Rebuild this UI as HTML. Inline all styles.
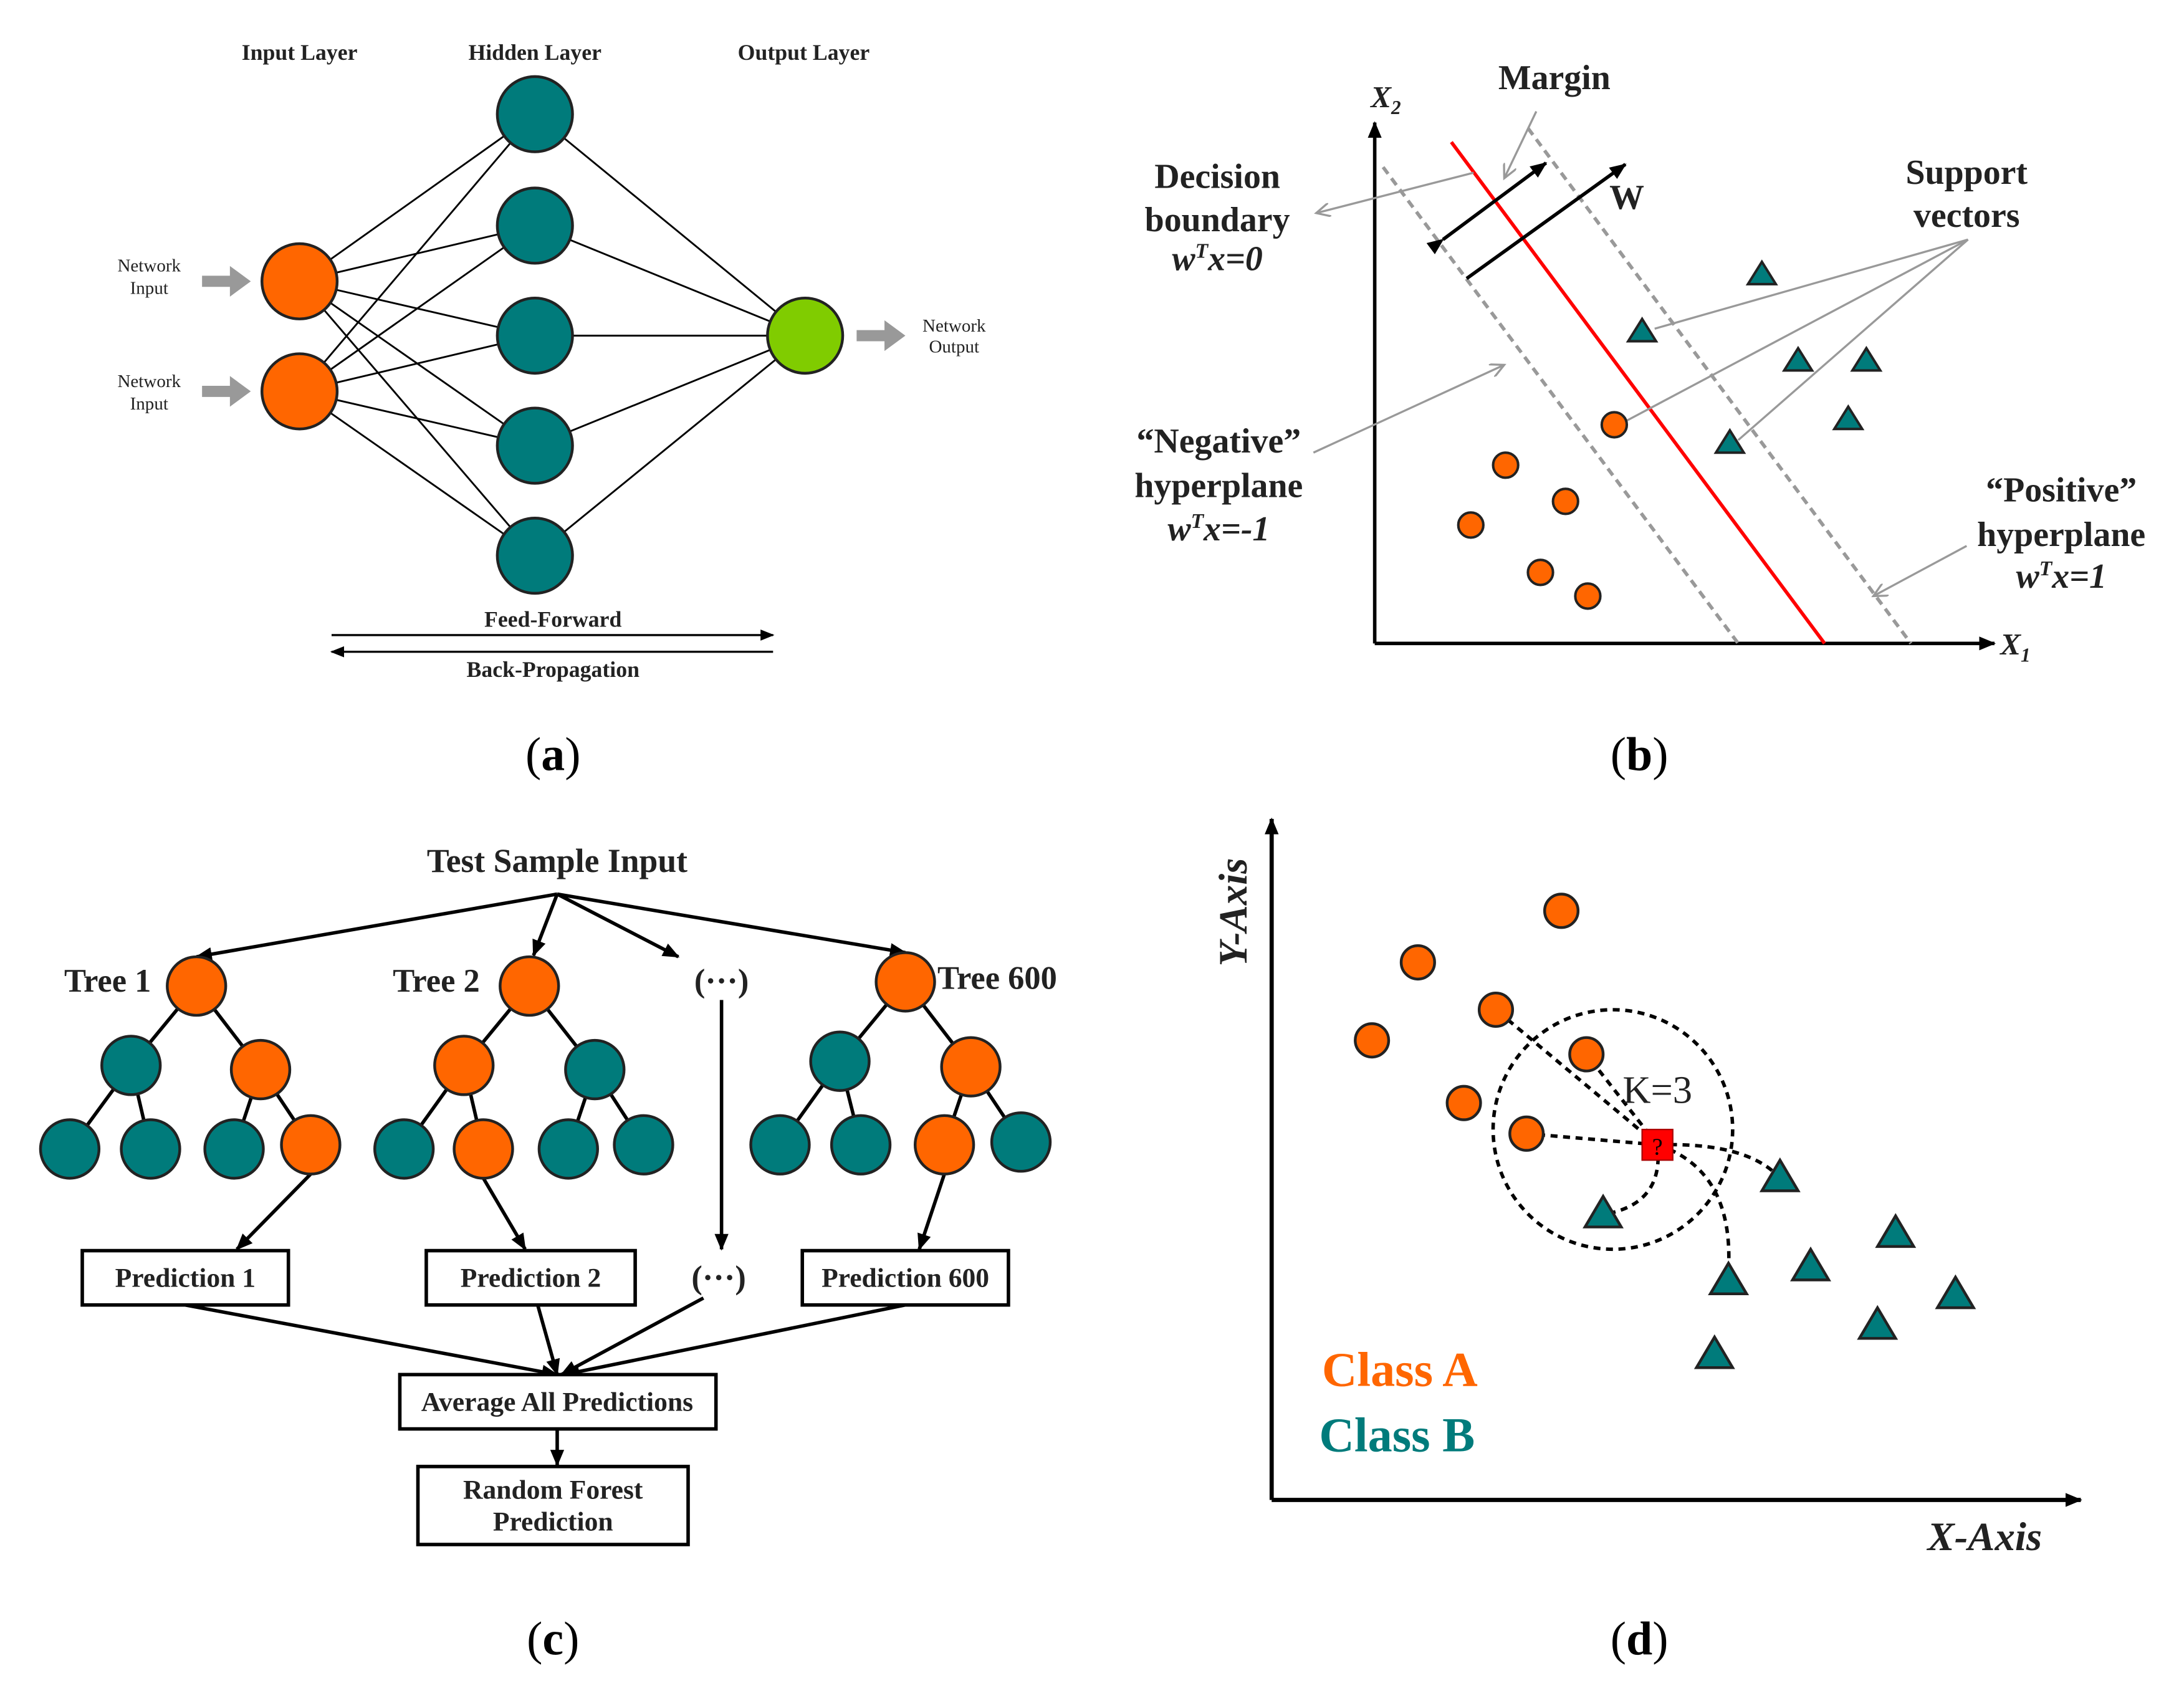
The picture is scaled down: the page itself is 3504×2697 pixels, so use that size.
<!DOCTYPE html>
<html><head><meta charset="utf-8"><style>html,body{margin:0;padding:0;background:#fff}svg{display:block}</style></head><body>
<svg width="3504" height="2697" viewBox="0 0 1568 1207" xmlns="http://www.w3.org/2000/svg" font-family="'Liberation Serif', serif" font-weight="bold">
<defs>
<marker id="ah" markerWidth="10" markerHeight="10" refX="9" refY="5" orient="auto" markerUnits="userSpaceOnUse"><path d="M0,1 L10,5 L0,9 z" fill="#000"/></marker>
<marker id="ahs" markerWidth="12" markerHeight="12" refX="11" refY="6" orient="auto" markerUnits="userSpaceOnUse"><path d="M0,1 L12,6 L0,11 z" fill="#000"/></marker>
<marker id="ahg" markerWidth="12" markerHeight="10" refX="10" refY="5" orient="auto" markerUnits="userSpaceOnUse"><path d="M0,0 L10,5 L0,10" fill="none" stroke="#999" stroke-width="1.5"/></marker>
</defs>
<rect width="1568" height="1207" fill="#fff"/>
<!-- Panel a -->
<g stroke="#000" stroke-width="1.3">
<line x1="215" y1="202" x2="384" y2="82"/><line x1="215" y1="202" x2="384" y2="162"/><line x1="215" y1="202" x2="384" y2="241"/><line x1="215" y1="202" x2="384" y2="320"/><line x1="215" y1="202" x2="384" y2="399"/>
<line x1="215" y1="281" x2="384" y2="82"/><line x1="215" y1="281" x2="384" y2="162"/><line x1="215" y1="281" x2="384" y2="241"/><line x1="215" y1="281" x2="384" y2="320"/><line x1="215" y1="281" x2="384" y2="399"/>
<line x1="384" y1="82" x2="578" y2="241"/><line x1="384" y1="162" x2="578" y2="241"/><line x1="384" y1="241" x2="578" y2="241"/><line x1="384" y1="320" x2="578" y2="241"/><line x1="384" y1="399" x2="578" y2="241"/>
</g>
<g stroke="#222" stroke-width="2">
<circle cx="215" cy="202" r="27" fill="#FF6600"/><circle cx="215" cy="281" r="27" fill="#FF6600"/>
<circle cx="384" cy="82" r="27" fill="#007B7B"/><circle cx="384" cy="162" r="27" fill="#007B7B"/><circle cx="384" cy="241" r="27" fill="#007B7B"/><circle cx="384" cy="320" r="27" fill="#007B7B"/><circle cx="384" cy="399" r="27" fill="#007B7B"/>
<circle cx="578" cy="241" r="27" fill="#80CC00"/>
</g>
<g fill="#999"><path d="M145,198 h20 v-7 l15,11 l-15,11 v-7 h-20z"/><path d="M145,277 h20 v-7 l15,11 l-15,11 v-7 h-20z"/><path d="M615,237 h20 v-7 l15,11 l-15,11 v-7 h-20z"/></g>
<g font-size="16" text-anchor="middle" fill="#222">
<text x="215" y="43">Input Layer</text><text x="384" y="43">Hidden Layer</text><text x="577" y="43">Output Layer</text>
<text x="397" y="450">Feed-Forward</text><text x="397" y="486">Back-Propagation</text>
</g>
<g font-size="13" text-anchor="middle" fill="#222" font-weight="normal">
<text x="107" y="195">Network</text><text x="107" y="211">Input</text>
<text x="107" y="278">Network</text><text x="107" y="294">Input</text>
<text x="685" y="238">Network</text><text x="685" y="253">Output</text>
</g>
<line x1="238" y1="456" x2="555" y2="456" stroke="#000" stroke-width="1.5" marker-end="url(#ah)"/>
<line x1="555" y1="468" x2="238" y2="468" stroke="#000" stroke-width="1.5" marker-end="url(#ah)"/>
<!-- Panel b -->
<line x1="987" y1="462" x2="987" y2="88" stroke="#000" stroke-width="2.5" marker-end="url(#ahs)"/>
<line x1="987" y1="462" x2="1432" y2="462" stroke="#000" stroke-width="2.5" marker-end="url(#ahs)"/>
<line x1="1042" y1="102" x2="1310" y2="462" stroke="#f00" stroke-width="2.5"/>
<line x1="993" y1="120" x2="1248" y2="462" stroke="#999" stroke-width="2.5" stroke-dasharray="6,4"/>
<line x1="1097" y1="92" x2="1372" y2="462" stroke="#999" stroke-width="2.5" stroke-dasharray="6,4"/>
<line x1="1036" y1="172" x2="1110" y2="117" stroke="#000" stroke-width="2.5" marker-end="url(#ahs)" marker-start="url(#ahs)"/>
<line x1="1053" y1="200" x2="1167" y2="118" stroke="#000" stroke-width="2.5" marker-end="url(#ahs)"/>
<g stroke="#999" stroke-width="1.5" fill="none">
<line x1="1058" y1="124" x2="945" y2="153" marker-end="url(#ahg)"/>
<line x1="1103" y1="80" x2="1080" y2="128" marker-end="url(#ahg)"/>
<line x1="943" y1="325" x2="1080" y2="262" marker-end="url(#ahg)"/>
<line x1="1412" y1="392" x2="1345" y2="428" marker-end="url(#ahg)"/>
<line x1="1413" y1="172" x2="1188" y2="236"/><line x1="1413" y1="172" x2="1168" y2="302"/><line x1="1413" y1="172" x2="1248" y2="316"/>
</g>
<g stroke="#222" stroke-width="1.8" fill="#FF6600">
<circle cx="1159" cy="305" r="9"/><circle cx="1081" cy="334" r="9"/><circle cx="1124" cy="360" r="9"/><circle cx="1056" cy="377" r="9"/><circle cx="1106" cy="411" r="9"/><circle cx="1140" cy="428" r="9"/>
</g>
<g stroke="#222" stroke-width="1.8" fill="#007B7B">
<path d="M1265,188 l10,16 h-20z"/><path d="M1179,229 l10,16 h-20z"/><path d="M1291,250 l10,16 h-20z"/><path d="M1340,250 l10,16 h-20z"/><path d="M1242,309 l10,16 h-20z"/><path d="M1327,292 l10,16 h-20z"/>
</g>
<g font-size="25" text-anchor="middle" fill="#222">
<text x="1116" y="64">Margin</text><text x="1168" y="150">W</text>
<text x="874" y="135">Decision</text><text x="874" y="166">boundary</text>
<text x="874" y="194" font-style="italic">w<tspan font-size="15" dy="-9">T</tspan><tspan dy="9">x=0</tspan></text>
<text x="1412" y="132">Support</text><text x="1412" y="163">vectors</text>
<text x="875" y="325">“Negative”</text><text x="875" y="357">hyperplane</text>
<text x="875" y="388" font-style="italic">w<tspan font-size="15" dy="-9">T</tspan><tspan dy="9">x=-1</tspan></text>
<text x="1480" y="360">“Positive”</text><text x="1480" y="392">hyperplane</text>
<text x="1480" y="422" font-style="italic">w<tspan font-size="15" dy="-9">T</tspan><tspan dy="9">x=1</tspan></text>
<text x="995" y="77" font-style="italic" font-size="22">X<tspan font-size="14" dy="5">2</tspan></text>
<text x="1447" y="470" font-style="italic" font-size="22">X<tspan font-size="14" dy="5">1</tspan></text>
</g>
<!-- captions -->
<g font-size="34" text-anchor="middle" fill="#000" font-weight="normal">
<text x="397" y="553">(<tspan font-weight="bold">a</tspan>)</text><text x="1177" y="553">(<tspan font-weight="bold">b</tspan>)</text>
<text x="397" y="1188">(<tspan font-weight="bold">c</tspan>)</text><text x="1177" y="1188">(<tspan font-weight="bold">d</tspan>)</text>
</g>
<!-- Panel c -->
<text x="400" y="626" font-size="24" text-anchor="middle" fill="#222">Test Sample Input</text>
<g stroke="#000" stroke-width="2.5" fill="none">
<line x1="400" y1="642" x2="141" y2="687" marker-end="url(#ahs)"/>
<line x1="400" y1="642" x2="383" y2="686" marker-end="url(#ahs)"/>
<line x1="400" y1="642" x2="487" y2="687" marker-end="url(#ahs)"/>
<line x1="400" y1="642" x2="650" y2="684" marker-end="url(#ahs)"/>
<line x1="518" y1="718" x2="518" y2="897" marker-end="url(#ahs)"/>
<line x1="141" y1="708" x2="94" y2="765"/><line x1="141" y1="708" x2="187" y2="768"/><line x1="94" y1="765" x2="50" y2="825"/><line x1="94" y1="765" x2="108" y2="825"/><line x1="187" y1="768" x2="168" y2="825"/><line x1="187" y1="768" x2="223" y2="822"/>
<line x1="380" y1="708" x2="333" y2="765"/><line x1="380" y1="708" x2="427" y2="768"/><line x1="333" y1="765" x2="290" y2="825"/><line x1="333" y1="765" x2="347" y2="825"/><line x1="427" y1="768" x2="408" y2="825"/><line x1="427" y1="768" x2="462" y2="822"/>
<line x1="650" y1="705" x2="603" y2="762"/><line x1="650" y1="705" x2="697" y2="766"/><line x1="603" y1="762" x2="560" y2="822"/><line x1="603" y1="762" x2="618" y2="822"/><line x1="697" y1="766" x2="678" y2="822"/><line x1="697" y1="766" x2="733" y2="820"/>
<line x1="223" y1="843" x2="170" y2="897" marker-end="url(#ahs)"/>
<line x1="347" y1="846" x2="377" y2="897" marker-end="url(#ahs)"/>
<line x1="678" y1="843" x2="660" y2="897" marker-end="url(#ahs)"/>
<line x1="133" y1="937" x2="400" y2="987" marker-end="url(#ahs)"/>
<line x1="386" y1="937" x2="400" y2="987" marker-end="url(#ahs)"/>
<line x1="505" y1="932" x2="403" y2="987" marker-end="url(#ahs)"/>
<line x1="650" y1="937" x2="405" y2="987" marker-end="url(#ahs)"/>
<line x1="400" y1="1026" x2="400" y2="1052" marker-end="url(#ahs)"/>
<rect x="59" y="898" width="148" height="39" fill="#fff"/><rect x="306" y="898" width="150" height="39" fill="#fff"/><rect x="576" y="898" width="148" height="39" fill="#fff"/>
<rect x="287" y="987" width="227" height="39" fill="#fff"/><rect x="300" y="1053" width="194" height="56" fill="#fff"/>
</g>
<g stroke="#222" stroke-width="2">
<circle cx="141" cy="708" r="21" fill="#FF6600"/><circle cx="94" cy="765" r="21" fill="#007B7B"/><circle cx="187" cy="768" r="21" fill="#FF6600"/><circle cx="50" cy="825" r="21" fill="#007B7B"/><circle cx="108" cy="825" r="21" fill="#007B7B"/><circle cx="168" cy="825" r="21" fill="#007B7B"/><circle cx="223" cy="822" r="21" fill="#FF6600"/>
<circle cx="380" cy="708" r="21" fill="#FF6600"/><circle cx="333" cy="765" r="21" fill="#FF6600"/><circle cx="427" cy="768" r="21" fill="#007B7B"/><circle cx="290" cy="825" r="21" fill="#007B7B"/><circle cx="347" cy="825" r="21" fill="#FF6600"/><circle cx="408" cy="825" r="21" fill="#007B7B"/><circle cx="462" cy="822" r="21" fill="#007B7B"/>
<circle cx="650" cy="705" r="21" fill="#FF6600"/><circle cx="603" cy="762" r="21" fill="#007B7B"/><circle cx="697" cy="766" r="21" fill="#FF6600"/><circle cx="560" cy="822" r="21" fill="#007B7B"/><circle cx="618" cy="822" r="21" fill="#007B7B"/><circle cx="678" cy="822" r="21" fill="#FF6600"/><circle cx="733" cy="820" r="21" fill="#007B7B"/>
</g>
<g font-size="23.5" fill="#222">
<text x="46" y="712">Tree 1</text><text x="282" y="712">Tree 2</text><text x="673" y="710">Tree 600</text>
<text x="518" y="712" text-anchor="middle">(···)</text><text x="516" y="925" text-anchor="middle">(···)</text>
</g>
<g font-size="19.5" fill="#222" text-anchor="middle">
<text x="133" y="924">Prediction 1</text><text x="381" y="924">Prediction 2</text><text x="650" y="924">Prediction 600</text>
<text x="400" y="1013">Average All Predictions</text>
<text x="397" y="1076">Random Forest</text><text x="397" y="1099">Prediction</text>
</g>
<!-- Panel d -->
<line x1="913" y1="1077" x2="913" y2="588" stroke="#000" stroke-width="3" marker-end="url(#ahs)"/>
<line x1="913" y1="1077" x2="1494" y2="1077" stroke="#000" stroke-width="3" marker-end="url(#ahs)"/>
<circle cx="1158" cy="811" r="86" fill="none" stroke="#000" stroke-width="2.5" stroke-dasharray="5,4"/>
<g stroke="#000" stroke-width="2.5" stroke-dasharray="5,4" fill="none">
<path d="M1190,822 L1074,725"/><path d="M1190,822 L1139,757"/><path d="M1190,822 L1096,814"/>
<path d="M1190,822 Q1195,865 1151,872"/><path d="M1190,822 Q1255,820 1278,846"/><path d="M1190,822 Q1245,840 1241,912"/>
</g>
<g stroke="#222" stroke-width="2" fill="#FF6600">
<circle cx="1121" cy="654" r="12"/><circle cx="1018" cy="691" r="12"/><circle cx="1074" cy="725" r="12"/><circle cx="985" cy="747" r="12"/><circle cx="1139" cy="757" r="12"/><circle cx="1051" cy="792" r="12"/><circle cx="1096" cy="814" r="12"/>
</g>
<g stroke="#222" stroke-width="2" fill="#007B7B">
<path d="M1278,833 l13,22 h-26z"/><path d="M1151,859 l13,22 h-26z"/><path d="M1241,907 l13,22 h-26z"/><path d="M1300,897 l13,22 h-26z"/><path d="M1361,873 l13,22 h-26z"/><path d="M1348,939 l13,22 h-26z"/><path d="M1404,917 l13,22 h-26z"/><path d="M1231,960 l13,22 h-26z"/>
</g>
<rect x="1179" y="811" width="22" height="22" fill="#f00" stroke="#a00"/>
<text x="1190" y="829" font-size="17" text-anchor="middle" fill="#000" font-weight="normal">?</text>
<text x="1190" y="792" font-size="28" text-anchor="middle" fill="#222" font-weight="normal">K=3</text>
<text x="1005" y="995" font-size="35" text-anchor="middle" fill="#FF6600">Class A</text>
<text x="1003" y="1042" font-size="35" text-anchor="middle" fill="#007B7B">Class B</text>
<text x="1425" y="1113" font-size="29" text-anchor="middle" font-style="italic" fill="#222">X-Axis</text>
<text transform="translate(895,655) rotate(-90)" font-size="29" text-anchor="middle" font-style="italic" fill="#222">Y-Axis</text>
</svg>
</body></html>
